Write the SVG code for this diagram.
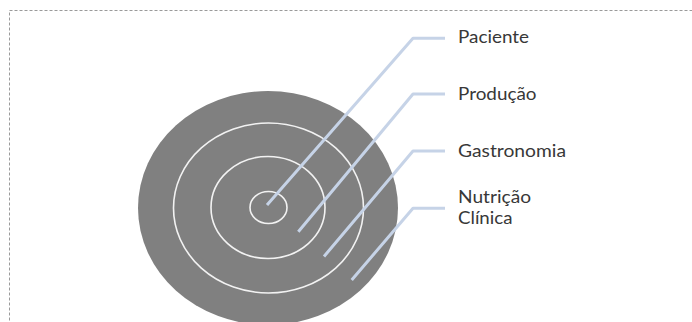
<svg xmlns="http://www.w3.org/2000/svg" width="692" height="322" viewBox="0 0 692 322">
<style>
.ring{fill:none;stroke:#f2f2f2;stroke-width:1.6}
.lead{fill:none;stroke:#c6d3e7;stroke-width:3;stroke-linejoin:round}
.lbl{font-family:Lato,"Open Sans","Liberation Sans",sans-serif;font-size:17px;fill:#383838}
</style>
<rect x="9.5" y="10.5" width="720" height="400" fill="none" stroke="#9a9a9a" stroke-width="1" stroke-dasharray="3 2"/>
<g id="target">
<ellipse cx="268" cy="208" rx="130" ry="117" fill="#808080"/>
<ellipse class="ring" cx="268.5" cy="208" rx="95" ry="85"/>
<ellipse class="ring" cx="268" cy="207.5" rx="57" ry="51"/>
<ellipse class="ring" cx="268.5" cy="207.5" rx="18.5" ry="16"/>
</g>
<g id="connectors">
<polyline class="lead" points="267,205 413,38.3 445,38.3"/>
<polyline class="lead" points="298.3,231.7 413,94 445,94"/>
<polyline class="lead" points="324,256.5 413,151 445,151"/>
<polyline class="lead" points="351.7,280 413,208.3 445,208.3"/>
</g>
<g id="paciente"><text class="lbl" x="458" y="43.3" textLength="71" lengthAdjust="spacingAndGlyphs">Paciente</text></g>
<g id="producao"><text class="lbl" x="458" y="100" textLength="78.5" lengthAdjust="spacingAndGlyphs">Produção</text></g>
<g id="gastronomia"><text class="lbl" x="458" y="157" textLength="108" lengthAdjust="spacingAndGlyphs">Gastronomia</text></g>
<g id="nutricao"><text class="lbl" x="458" y="203.3" textLength="73" lengthAdjust="spacingAndGlyphs">Nutrição</text><text class="lbl" x="458" y="224" textLength="54.5" lengthAdjust="spacingAndGlyphs">Clínica</text></g>
</svg>
